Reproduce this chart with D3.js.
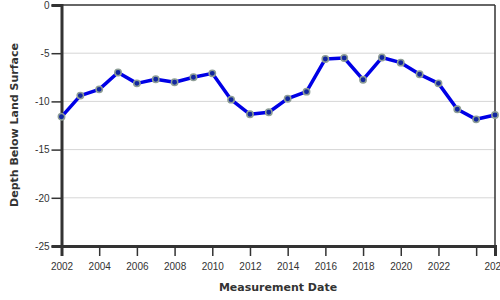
<!DOCTYPE html>
<html>
<head>
<meta charset="utf-8">
<script src="https://cdn.jsdelivr.net/npm/d3@7"></script>
<style>
  body { margin: 0; background: #fff; }
  svg { font-family: "DejaVu Sans", sans-serif; }
  .tick text { fill: #333; font-size: 10px; }
</style>
</head>
<body>
<div id="chart"></div>
<script>
// Yearly depth readings (feet below land surface, negative = below)
const years = [2002, 2003, 2004, 2005, 2006, 2007, 2008, 2009, 2010, 2011, 2012, 2013,
               2014, 2015, 2016, 2017, 2018, 2019, 2020, 2021, 2022, 2023, 2024, 2025];
const depths = [-11.6, -9.4, -8.75, -7.0, -8.13, -7.71, -8.02, -7.5, -7.09, -9.82, -11.34, -11.13,
                -9.72, -8.99, -5.6, -5.5, -7.75, -5.45, -5.98, -7.19, -8.13, -10.82, -11.86, -11.41];
const yTicks = [0, -5, -10, -15, -20, -25];
const xTicks = [2002, 2004, 2006, 2008, 2010, 2012, 2014, 2016, 2018, 2020, 2022, 2024, 2025];
const xTickLabels = ["2002", "2004", "2006", "2008", "2010", "2012", "2014", "2016", "2018", "2020", "2022", "", "2025"];

const data = years.map((y, i) => ({year: y, depth: depths[i]}));

const margin = {top: 5, right: 5, bottom: 54, left: 61.5};
const width = 500 - margin.left - margin.right;
const height = 300 - margin.top - margin.bottom;

const svg = d3.select("#chart")
    .append("svg")
    .attr("width", 500)
    .attr("height", 300)
    .append("g")
    .attr("transform", "translate(" + margin.left + "," + margin.top + ")");

const xScale = d3.scaleLinear().domain([2002, 2025]).range([0, width]);
const yScale = d3.scaleLinear().domain([-25, 0]).range([height, 0]);

// Horizontal gridlines
svg.selectAll(".grid")
    .data(yTicks.filter(d => d !== 0 && d !== -25))
    .enter()
    .append("line")
    .attr("class", "grid")
    .attr("x1", 0)
    .attr("x2", width)
    .attr("y1", d => yScale(d))
    .attr("y2", d => yScale(d))
    .attr("stroke", "#d6d6d6")
    .attr("stroke-width", 1);

// Top and right frame
svg.append("line")
    .attr("x1", 0).attr("x2", width)
    .attr("y1", 0).attr("y2", 0)
    .attr("stroke", "#333").attr("stroke-width", 1.5);
svg.append("line")
    .attr("x1", width).attr("x2", width)
    .attr("y1", 0).attr("y2", height)
    .attr("stroke", "#333").attr("stroke-width", 1.5);

// Axes
const xAxis = d3.axisBottom(xScale)
    .tickValues(xTicks)
    .tickSize(10)
    .tickFormat((d, i) => xTickLabels[i]);
const yAxis = d3.axisLeft(yScale)
    .tickValues(yTicks)
    .tickSize(10)
    .tickFormat(d => String(d));

const gx = svg.append("g")
    .attr("transform", "translate(0," + height + ")")
    .call(xAxis);
const gy = svg.append("g").call(yAxis);

[gx, gy].forEach(g => {
    g.select(".domain").attr("stroke", "#333").attr("stroke-width", 3);
    g.selectAll(".tick line").attr("stroke", "#333").attr("stroke-width", 1.5);
});
gx.selectAll(".tick text").attr("dy", "1.05em");
gy.selectAll(".tick text").attr("x", -12);

// Axis labels
svg.append("text")
    .attr("text-anchor", "middle")
    .attr("x", 278 - margin.left)
    .attr("y", 291 - margin.top)
    .attr("font-size", "11px")
    .attr("font-weight", "bold")
    .attr("fill", "#333")
    .text("Measurement Date");

svg.append("text")
    .attr("text-anchor", "middle")
    .attr("transform", "rotate(-90)")
    .attr("x", -(125 - margin.top))
    .attr("y", -margin.left + 18)
    .attr("font-size", "11px")
    .attr("font-weight", "bold")
    .attr("fill", "#333")
    .text("Depth Below Land Surface");

// Line
const line = d3.line()
    .x(d => xScale(d.year))
    .y(d => yScale(d.depth));

svg.append("path")
    .datum(data)
    .attr("d", line)
    .attr("fill", "none")
    .attr("stroke", "#0000e6")
    .attr("stroke-width", 3.5)
    .attr("stroke-linejoin", "round");

// Points
svg.selectAll(".point")
    .data(data)
    .enter()
    .append("circle")
    .attr("class", "point")
    .attr("cx", d => xScale(d.year))
    .attr("cy", d => yScale(d.depth))
    .attr("r", 3.2)
    .attr("fill", "#12279e")
    .attr("stroke", "#8e9e96")
    .attr("stroke-width", 1.5);
</script>
</body>
</html>
